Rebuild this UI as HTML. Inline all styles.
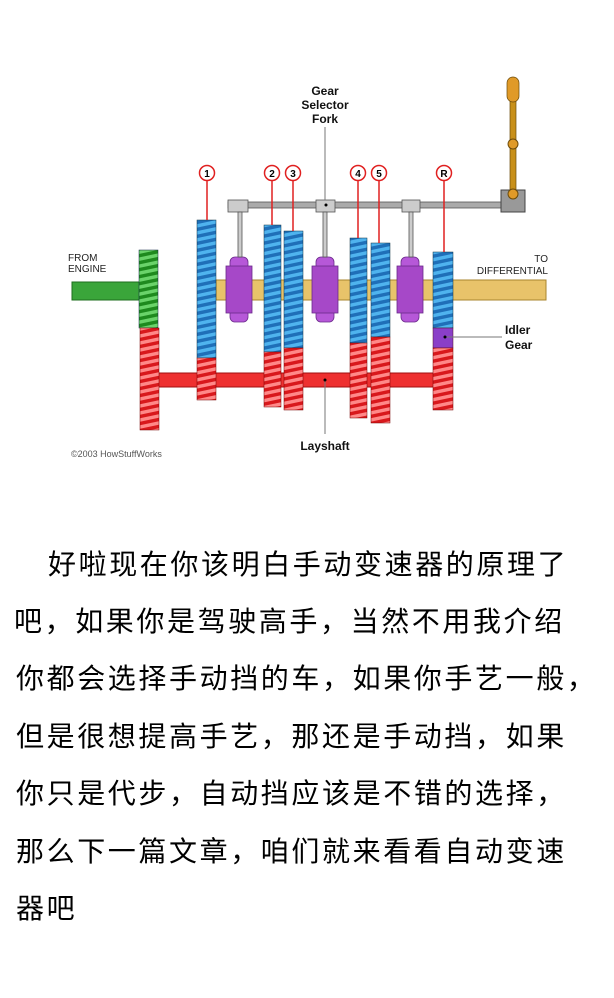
<!DOCTYPE html>
<html><head><meta charset="utf-8"><style>
html,body{margin:0;padding:0;background:#fff;}
body{width:614px;height:998px;position:relative;overflow:hidden;font-family:"Liberation Sans",sans-serif;}
svg{position:absolute;left:0;top:0;}
.t{position:absolute;font-family:"Liberation Sans","Noto Sans CJK SC","WenQuanYi Zen Hei",sans-serif;font-size:28px;letter-spacing:2.6px;color:#000;white-space:nowrap;line-height:40px;font-weight:normal;}
</style></head><body>
<svg width="614" height="500" viewBox="0 0 614 500">
<defs>
<pattern id="pb" width="8" height="7" patternUnits="userSpaceOnUse" patternTransform="skewY(-12)"><rect width="8" height="7" fill="#1f6fb8"/><rect width="8" height="3.5" fill="#4fb3ee"/></pattern>
<pattern id="pr" width="8" height="7" patternUnits="userSpaceOnUse" patternTransform="skewY(-12)"><rect width="8" height="7" fill="#d8181c"/><rect width="8" height="3.5" fill="#ff8888"/></pattern>
<pattern id="pg" width="8" height="7" patternUnits="userSpaceOnUse" patternTransform="skewY(-12)"><rect width="8" height="7" fill="#1e8a1e"/><rect width="8" height="3.5" fill="#6ad36a"/></pattern>
</defs>
<rect x="72" y="282" width="68" height="18" fill="#3aa53a" stroke="#1e6e1e"/>
<rect x="216" y="280" width="330" height="20" fill="#e8c36a" stroke="#a8842e"/>
<rect x="158" y="373" width="276" height="14" fill="#ee3030" stroke="#a01010"/>
<rect x="139" y="250" width="19" height="78" fill="url(#pg)" stroke="#124" stroke-width="0.5"/>
<rect x="140" y="328" width="19" height="102" fill="url(#pr)" stroke="#700" stroke-width="0.5"/>
<g stroke-width="0.5">
<rect x="197" y="220" width="19" height="138" fill="url(#pb)" stroke="#134"/>
<rect x="197" y="358" width="19" height="42" fill="url(#pr)" stroke="#700"/>
<rect x="264" y="225" width="17" height="127" fill="url(#pb)" stroke="#134"/>
<rect x="264" y="352" width="17" height="55" fill="url(#pr)" stroke="#700"/>
<rect x="284" y="231" width="19" height="117" fill="url(#pb)" stroke="#134"/>
<rect x="284" y="348" width="19" height="62" fill="url(#pr)" stroke="#700"/>
<rect x="350" y="238" width="17" height="105" fill="url(#pb)" stroke="#134"/>
<rect x="350" y="343" width="17" height="75" fill="url(#pr)" stroke="#700"/>
<rect x="371" y="243" width="19" height="94" fill="url(#pb)" stroke="#134"/>
<rect x="371" y="337" width="19" height="86" fill="url(#pr)" stroke="#700"/>
<rect x="433" y="252" width="20" height="76" fill="url(#pb)" stroke="#134"/>
<rect x="433" y="328" width="20" height="20" fill="#8a3fc8" stroke="#512"/>
<rect x="433" y="348" width="20" height="62" fill="url(#pr)" stroke="#700"/>
</g>
<g fill="#b658d8" stroke="#6a2a8a" stroke-width="0.8">
<rect x="230" y="257" width="18" height="65" rx="5"/><rect x="226" y="266" width="26" height="47" fill="#a648c8"/>
<rect x="316" y="257" width="18" height="65" rx="5"/><rect x="312" y="266" width="26" height="47" fill="#a648c8"/>
<rect x="401" y="257" width="18" height="65" rx="5"/><rect x="397" y="266" width="26" height="47" fill="#a648c8"/>
</g>
<rect x="228" y="202" width="274" height="6" fill="#aaa" stroke="#555" stroke-width="0.8"/>
<g fill="#ccc" stroke="#555" stroke-width="0.8">
<rect x="228" y="200" width="20" height="12"/><rect x="316" y="200" width="19" height="12"/><rect x="402" y="200" width="18" height="12"/>
<rect x="238" y="212" width="4" height="45"/><rect x="323" y="212" width="4" height="45"/><rect x="409" y="212" width="4" height="45"/>
</g>
<circle cx="326" cy="205" r="1.5" fill="#000"/>
<rect x="501" y="190" width="24" height="22" fill="#999" stroke="#444"/>
<rect x="510" y="95" width="6" height="100" fill="#c8901a" stroke="#6a4a0a" stroke-width="0.7"/>
<rect x="507" y="77" width="12" height="25" rx="6" fill="#e09a28" stroke="#6a4a0a" stroke-width="0.7"/>
<circle cx="513" cy="144" r="5" fill="#e09a28" stroke="#6a4a0a"/>
<circle cx="513" cy="194" r="5" fill="#e09a28" stroke="#6a4a0a"/>
<g stroke="#e02020" stroke-width="1.5" fill="#fff">
<line x1="207" y1="181" x2="207" y2="220"/><line x1="272" y1="181" x2="272" y2="225"/><line x1="293" y1="181" x2="293" y2="231"/>
<line x1="358" y1="181" x2="358" y2="238"/><line x1="379" y1="181" x2="379" y2="243"/><line x1="444" y1="181" x2="444" y2="252"/>
<circle cx="207" cy="173" r="7.5"/><circle cx="272" cy="173" r="7.5"/><circle cx="293" cy="173" r="7.5"/>
<circle cx="358" cy="173" r="7.5"/><circle cx="379" cy="173" r="7.5"/><circle cx="444" cy="173" r="7.5"/>
</g>
<g font-family="Liberation Sans" font-weight="bold" font-size="10" text-anchor="middle" fill="#000">
<text x="207" y="177">1</text><text x="272" y="177">2</text><text x="293" y="177">3</text>
<text x="358" y="177">4</text><text x="379" y="177">5</text><text x="444" y="177">R</text>
</g>
<g stroke="#777" stroke-width="1">
<line x1="325" y1="127" x2="325" y2="200"/>
<line x1="325" y1="380" x2="325" y2="434"/>
<line x1="445" y1="337" x2="502" y2="337"/>
</g>
<circle cx="325" cy="380" r="1.5" fill="#000"/><circle cx="445" cy="337" r="1.5" fill="#000"/>
<g font-family="Liberation Sans" font-weight="bold" font-size="12" fill="#111" text-anchor="middle">
<text x="325" y="95">Gear</text><text x="325" y="109">Selector</text><text x="325" y="123">Fork</text>
<text x="325" y="450">Layshaft</text>
</g>
<g font-family="Liberation Sans" font-weight="bold" font-size="12" fill="#111">
<text x="505" y="334">Idler</text><text x="505" y="349">Gear</text>
</g>
<g font-family="Liberation Sans" font-size="10" fill="#222">
<text x="68" y="261">FROM</text><text x="68" y="272">ENGINE</text>
<text x="548" y="262" text-anchor="end">TO</text><text x="548" y="274" text-anchor="end">DIFFERENTIAL</text>
</g>
<text x="71" y="457" font-family="Liberation Sans" font-size="9" fill="#555">©2003 HowStuffWorks</text>
</svg>
<div class="t" style="left:48px;top:545px">好啦现在你该明白手动变速器的原理了</div>
<div class="t" style="left:14px;top:602px">吧，如果你是驾驶高手，当然不用我介绍</div>
<div class="t" style="left:16px;top:659px">你都会选择手动挡的车，如果你手艺一般，</div>
<div class="t" style="left:16px;top:717px">但是很想提高手艺，那还是手动挡，如果</div>
<div class="t" style="left:16px;top:774px">你只是代步，自动挡应该是不错的选择，</div>
<div class="t" style="left:16px;top:832px">那么下一篇文章，咱们就来看看自动变速</div>
<div class="t" style="left:16px;top:889px">器吧</div>
</body></html>
